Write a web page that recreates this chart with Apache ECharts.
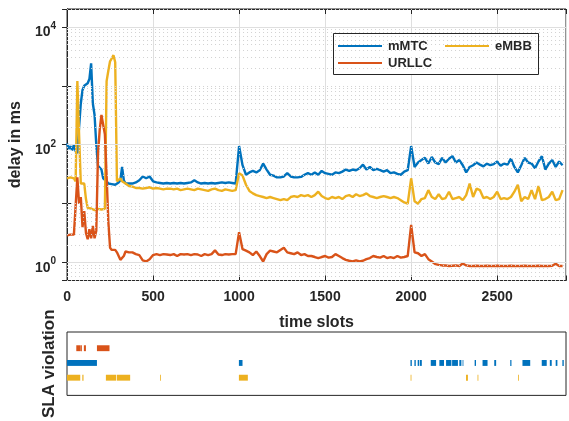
<!DOCTYPE html>
<html>
<head>
<meta charset="utf-8">
<script src="https://cdn.jsdelivr.net/npm/echarts@6/dist/echarts.min.js"></script>
<style>
  html, body { margin: 0; padding: 0; background: #fff; }
  #chart { width: 569px; height: 421px; }
</style>
</head>
<body>
<div id="chart"></div>
<script>
// time slots where the delays were read: every 10 up to 400, then every 20
var slots = [];
for (var t = 0; t <= 400; t += 10) slots.push(t);
for (t = 420; t <= 2880; t += 20) slots.push(t);

// delay in ms
var mmtcDelay = [
  105, 85, 95, 80, 100, 78, 72, 200, 500, 850,
  1000, 950, 1100, 1300, 2400, 500, 320, 100, 44, 42,
  38, 27, 25, 24, 22, 22, 21.5, 22, 21, 22,
  23, 25, 42, 25, 22, 21.5, 22, 21, 22, 22.5,
  23,
  25, 29, 27, 29, 24, 23, 22.5, 22, 22.5, 22,
  22.5, 22, 22.5, 22, 22.5, 23, 25, 23, 22, 22.5,
  22, 22.5, 22, 22.5, 23, 22.5, 23, 22.5, 22, 95,
  45, 31, 34, 36, 34, 37, 48, 38, 31, 30,
  28, 28, 29, 33, 29, 28, 28, 28.5, 31, 33,
  31, 34, 31, 36, 33, 32, 31, 34, 33, 35,
  38, 36, 38, 37, 40, 46, 38, 42, 37, 39,
  37, 35, 37, 33, 34, 32, 31, 35, 37, 95,
  42, 50, 55, 60, 48, 62, 50, 47, 60, 50,
  58, 64, 50, 55, 45, 34, 42, 45, 50, 46,
  43, 48, 45, 47, 52, 44, 48, 46, 58, 42,
  34, 45, 60, 50, 48, 40, 52, 64, 38, 48,
  55, 42, 52, 45
];
var embbDelay = [
  27, 25, 28, 26, 27, 24, 1200, 150, 22, 21,
  22, 12, 8.5, 8, 8.3, 8, 7.8, 8, 8.2, 7.8,
  8, 8, 8.2, 1200, 1800, 2600, 2900, 3300, 2500, 24,
  25, 27, 24, 23, 22, 21, 20, 20, 19.5, 19,
  18.5,
  18.5, 18, 18.5, 19, 18, 18.5, 18, 17.5, 18, 18,
  17.5, 18, 17, 17.5, 18, 17.5, 17, 18, 17.5, 17,
  16.5, 17.5, 18, 17, 16.5, 17.5, 17, 16.5, 17, 33,
  30, 21, 16.5, 15, 14, 13.5, 13, 12.5, 13, 12.5,
  12, 11.5, 12, 11.5, 13, 13.5, 13, 14, 13.5, 14,
  13, 14, 16, 13.5, 12.5, 12, 13, 12.5, 13, 12,
  13.5, 14, 13, 14.5, 13.5, 14, 15, 13.5, 13, 12.5,
  13, 13.5, 13, 12.5, 13, 12.5, 11.5, 10.5, 10, 27,
  11, 10, 12, 12.5, 17, 13, 12, 14.5, 12, 12.5,
  16, 12, 12.5, 13, 11.5, 14, 22, 13, 18, 17,
  12.5, 13, 12, 13, 16, 12, 12.5, 12, 13, 16,
  21, 11, 13, 12, 17, 12, 20, 11.5, 12, 13,
  16, 11.5, 12, 17
];
var urllcDelay = [
  2.9, 2.8, 3, 2.9, 3, 3.1, 28, 10, 13, 4,
  7.5, 3.2, 2.5, 3.7, 2.6, 4.2, 2.6, 3.5, 70, 180,
  320, 320, 150, 30, 5, 1.8, 1.65, 1.6, 1.65, 1.5,
  1.3, 1.12, 1.05, 1.3, 1.55, 1.6, 1.5, 1.55, 1.5, 1.45,
  1.4,
  1.35, 1.1, 1.05, 1.15, 1.35, 1.4, 1.35, 1.4, 1.38, 1.35,
  1.4, 1.3, 1.4, 1.38, 1.4, 1.35, 1.4, 1.38, 1.3, 1.4,
  1.35, 1.4, 1.62, 1.38, 1.35, 1.4, 1.38, 1.4, 1.4, 3.3,
  1.7, 1.6, 1.5, 1.35, 1.55, 1.3, 1.05, 1.4, 1.6, 1.55,
  1.5, 1.65, 1.8, 1.5, 1.45, 1.4, 1.5, 1.35, 1.4, 1.3,
  1.3, 1.25, 1.2, 1.25, 1.3, 1.22, 1.25, 1.4, 1.3, 1.2,
  1.12, 1.08, 1.05, 1.1, 1.05, 1.08, 1.15, 1.2, 1.3, 1.25,
  1.22, 1.3, 1.2, 1.25, 1.2, 1.3, 1.22, 1.25, 1.3, 4.4,
  1.5, 1.45, 1.3, 1.4, 1.15, 1.05, 0.95, 0.92, 0.9, 0.9,
  0.88, 0.89, 0.9, 0.88, 0.97, 0.9, 0.88, 0.88, 0.89, 0.88,
  0.88, 0.89, 0.88, 0.88, 0.89, 0.88, 0.88, 0.88, 0.89, 0.88,
  0.88, 0.88, 0.89, 0.88, 0.88, 0.88, 0.89, 0.88, 0.88, 0.88,
  0.89, 0.96, 0.88, 0.88
];

// SLA violation intervals [start, end] in time slots
var urllcViolations = [[54, 80], [82, 87], [98, 110], [174, 247]];
var mmtcViolations = [[0, 174], [999, 1020], [1996, 2004], [2019, 2027], [2038, 2046], [2050, 2062],
  [2114, 2145], [2164, 2191], [2203, 2234], [2238, 2272], [2280, 2292], [2299, 2303],
  [2369, 2377], [2415, 2444], [2483, 2494], [2576, 2583], [2647, 2692], [2759, 2788],
  [2806, 2817], [2840, 2850], [2879, 2887]];
var embbViolations = [[0, 77], [89, 96], [226, 286], [290, 367], [541, 543], [999, 1051],
  [1997, 2000], [2319, 2330], [2386, 2387], [2622, 2624]];

var xTicks = [0, 500, 1000, 1500, 2000, 2500];
var yLabelExp = [0, 2, 4];

var blue = '#0072BD', red = '#D95319', yellow = '#EDB120';
var font = '"Liberation Sans", Arial, Helvetica, sans-serif';
var ink = '#262626';

function pairs(values) {
  return values.map(function (v, i) { return [slots[i], v]; });
}
function rows(list, row) {
  return list.map(function (iv) { return [iv[0], iv[1], row]; });
}

// grid lines of the log axis: solid at labelled decades, dotted elsewhere
var majorLines = [], minorLines = [];
for (var k = -1; k <= 4; k++) {
  for (var m = 1; m <= 9; m++) {
    var v = m * Math.pow(10, k);
    if (v < 0.5 || v > 20000) continue;
    if (m === 1 && yLabelExp.indexOf(k) >= 0) majorLines.push({ yAxis: v });
    else minorLines.push({ yAxis: v });
  }
}

function renderBar(params, api) {
  var s = api.coord([api.value(0), api.value(2)]);
  var e = api.coord([api.value(1), api.value(2)]);
  var h = api.size([0, 0.4])[1];
  return {
    type: 'rect',
    shape: { x: s[0], y: s[1] - h / 2, width: Math.max(e[0] - s[0], 0.8), height: h },
    style: { fill: api.visual('color') }
  };
}

// one legend entry per box position, framed by a single rectangle
function legendItem(name, left, top) {
  return {
    data: [name], left: left, top: top, padding: 0, z: 6,
    icon: 'rect', itemWidth: 44, itemHeight: 2, itemGap: 0,
    textStyle: { fontFamily: font, fontWeight: 'bold', fontSize: 13, color: ink, padding: [0, 0, 0, 1] }
  };
}

var chart = echarts.init(document.getElementById('chart'));
chart.setOption({
  animation: false,
  textStyle: { fontFamily: font },
  grid: [
    { left: 67, right: 3, top: 9, height: 271.5, show: true, borderColor: ink, borderWidth: 1, backgroundColor: 'transparent' },
    { left: 67, right: 3, top: 332, bottom: 7, show: true, borderColor: ink, borderWidth: 1, backgroundColor: 'transparent' }
  ],
  graphic: [{
    type: 'rect', z: 5, silent: true,
    shape: { x: 333.5, y: 33.5, width: 205, height: 41 },
    style: { fill: '#fff', stroke: ink, lineWidth: 1 }
  }],
  legend: [
    legendItem('mMTC', 338, 39.5),
    legendItem('eMBB', 445, 39.5),
    legendItem('URLLC', 338, 56.5)
  ],
  xAxis: [
    {
      type: 'value', gridIndex: 0, min: 0, max: 2900, interval: 500,
      name: 'time slots', nameLocation: 'middle', nameGap: 34,
      nameTextStyle: { fontFamily: font, fontWeight: 'bold', fontSize: 16, color: ink },
      axisLine: { show: true, lineStyle: { color: ink } },
      axisTick: { show: true, inside: true, length: 5, lineStyle: { color: ink } },
      axisLabel: {
        margin: 10, fontFamily: font, fontWeight: 'bold', fontSize: 14, color: ink,
        formatter: function (v) { return xTicks.indexOf(v) >= 0 ? String(v) : ''; }
      },
      splitLine: { show: true, lineStyle: { color: '#dfdfdf', width: 1 } }
    },
    {
      type: 'value', gridIndex: 0, position: 'top', min: 0, max: 2900, interval: 500,
      axisLine: { show: true, lineStyle: { color: ink } },
      axisTick: { show: true, inside: true, length: 5, lineStyle: { color: ink } },
      axisLabel: { show: false }, splitLine: { show: false }
    },
    {
      type: 'value', gridIndex: 1, min: 0, max: 2900, show: false
    }
  ],
  yAxis: [
    {
      type: 'log', logBase: 10, gridIndex: 0, min: 0.5, max: 20000,
      name: 'delay in ms', nameLocation: 'middle', nameGap: 37,
      nameTextStyle: { fontFamily: font, fontWeight: 'bold', fontSize: 16, color: ink },
      axisLine: { show: true, lineStyle: { color: ink } },
      axisTick: { show: true, inside: true, length: 5, lineStyle: { color: ink } },
      axisLabel: {
        margin: 11, padding: [10, 0, 0, 0],
        formatter: function (v) {
          var e = Math.round(Math.log10(v));
          if (Math.abs(Math.log10(v) - e) > 1e-6 || yLabelExp.indexOf(e) < 0) return '';
          return '{b|10}{s|' + e + '}';
        },
        rich: {
          b: { fontFamily: font, fontWeight: 'bold', fontSize: 14, color: ink, lineHeight: 22 },
          s: { fontFamily: font, fontWeight: 'bold', fontSize: 10, color: ink, lineHeight: 10, verticalAlign: 'top' }
        }
      },
      splitLine: { show: false }
    },
    {
      type: 'log', logBase: 10, gridIndex: 0, position: 'right', min: 0.5, max: 20000,
      axisLine: { show: true, lineStyle: { color: ink } },
      axisTick: { show: true, inside: true, length: 5, lineStyle: { color: ink } },
      axisLabel: { show: false }, splitLine: { show: false }
    },
    {
      type: 'value', gridIndex: 1, min: -0.2, max: 4.1,
      name: 'SLA violation', nameLocation: 'middle', nameGap: 9,
      nameTextStyle: { fontFamily: font, fontWeight: 'bold', fontSize: 17, color: ink },
      axisLine: { show: false }, axisTick: { show: false },
      axisLabel: { show: false }, splitLine: { show: false }
    }
  ],
  series: [
    {
      name: 'gridlines', type: 'line', xAxisIndex: 0, yAxisIndex: 0, z: 1,
      data: [], silent: true,
      markLine: {
        silent: true, symbol: ['none', 'none'], label: { show: false },
        lineStyle: { color: '#d2d2d2', width: 1, type: [1, 3] },
        data: minorLines.concat(majorLines.map(function (d) {
          return { yAxis: d.yAxis, lineStyle: { color: '#dfdfdf', type: 'solid', width: 1.2 } };
        }))
      }
    },
    {
      name: 'mMTC', type: 'line', xAxisIndex: 0, yAxisIndex: 0, z: 3,
      data: pairs(mmtcDelay), symbol: 'none', color: blue,
      lineStyle: { width: 2.4, color: blue }
    },
    {
      name: 'eMBB', type: 'line', xAxisIndex: 0, yAxisIndex: 0, z: 3,
      data: pairs(embbDelay), symbol: 'none', color: yellow,
      lineStyle: { width: 2.4, color: yellow }
    },
    {
      name: 'URLLC', type: 'line', xAxisIndex: 0, yAxisIndex: 0, z: 3,
      data: pairs(urllcDelay), symbol: 'none', color: red,
      lineStyle: { width: 2.4, color: red }
    },
    {
      name: 'URLLC SLA', type: 'custom', xAxisIndex: 2, yAxisIndex: 2,
      renderItem: renderBar, encode: { x: [0, 1], y: 2 },
      itemStyle: { color: red }, data: rows(urllcViolations, 3)
    },
    {
      name: 'mMTC SLA', type: 'custom', xAxisIndex: 2, yAxisIndex: 2,
      renderItem: renderBar, encode: { x: [0, 1], y: 2 },
      itemStyle: { color: blue }, data: rows(mmtcViolations, 2)
    },
    {
      name: 'eMBB SLA', type: 'custom', xAxisIndex: 2, yAxisIndex: 2,
      renderItem: renderBar, encode: { x: [0, 1], y: 2 },
      itemStyle: { color: yellow }, data: rows(embbViolations, 1)
    }
  ]
});
</script>
</body>
</html>
